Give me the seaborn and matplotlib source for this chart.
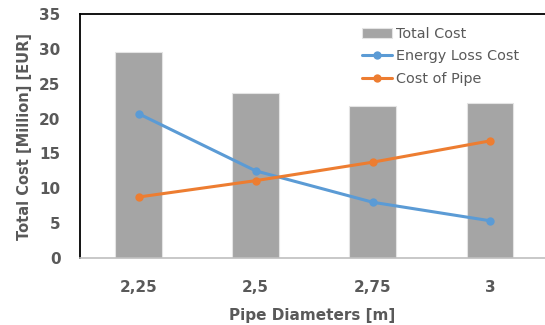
import matplotlib
matplotlib.use("Agg")
import matplotlib.pyplot as plt
import seaborn as sns
import pandas as pd

diameters = ["2,25", "2,5", "2,75", "3"]
total_cost = [29.5, 23.7, 21.85, 22.2]
energy_loss_cost = [20.7, 12.5, 8.0, 5.35]
cost_of_pipe = [8.75, 11.1, 13.75, 16.8]

sns.set_theme(style="white")
plt.rcParams['font.family'] = ['DejaVu Sans']

fig = plt.figure(figsize=(5.45, 3.25), dpi=100)
ax = fig.add_axes([0.1468, 0.206, 0.8532, 0.751])

df = pd.DataFrame({"d": diameters, "total": total_cost,
                   "energy": energy_loss_cost, "pipe": cost_of_pipe})

sns.barplot(data=df, x="d", y="total", color="#A5A5A5", saturation=1,
            width=0.4, edgecolor="#E4E4E4", linewidth=0.8, ax=ax,
            label="Total Cost")
sns.lineplot(data=df, x="d", y="energy", color="#5B9BD5", marker="o",
             markersize=6, markeredgewidth=0, linewidth=2.2, sort=False,
             ax=ax, label="Energy Loss Cost")
sns.lineplot(data=df, x="d", y="pipe", color="#ED7D31", marker="o",
             markersize=6, markeredgewidth=0, linewidth=2.2, sort=False,
             ax=ax, label="Cost of Pipe")

ax.set_xlim(-0.5, 3.47)
ax.set_ylim(0, 35)
ax.set_yticks(range(0, 36, 5))

txtc = "#595959"
ax.tick_params(axis="y", length=0, pad=14, labelsize=11, labelcolor=txtc)
ax.tick_params(axis="x", length=0, pad=16, labelsize=11, labelcolor=txtc)
for lab in ax.get_xticklabels() + ax.get_yticklabels():
    lab.set_fontweight("bold")

ax.set_xlabel("Pipe Diameters [m]", fontsize=11, fontweight="bold",
              color=txtc, labelpad=9)
ax.set_ylabel("Total Cost [Million] [EUR]", fontsize=10.5, fontweight="bold",
              color=txtc, labelpad=5)

for s in ["left", "top"]:
    ax.spines[s].set_color("black")
    ax.spines[s].set_linewidth(1.3)
ax.spines["right"].set_visible(False)
ax.spines["bottom"].set_color("#BFBFBF")
ax.spines["bottom"].set_linewidth(1.2)

handles, labels = ax.get_legend_handles_labels()
order = [labels.index(n) for n in ["Total Cost", "Energy Loss Cost", "Cost of Pipe"]]
leg = ax.legend([handles[i] for i in order], [labels[i] for i in order],
                loc="upper left", bbox_to_anchor=(362 / 545, 298 / 325),
                bbox_transform=fig.transFigure, frameon=False,
                fontsize=10.4, handlelength=2.08, handletextpad=0.28,
                labelspacing=0.58, borderpad=0, borderaxespad=0)
for t in leg.get_texts():
    t.set_color(txtc)

fig.savefig("out.png", dpi=100)
